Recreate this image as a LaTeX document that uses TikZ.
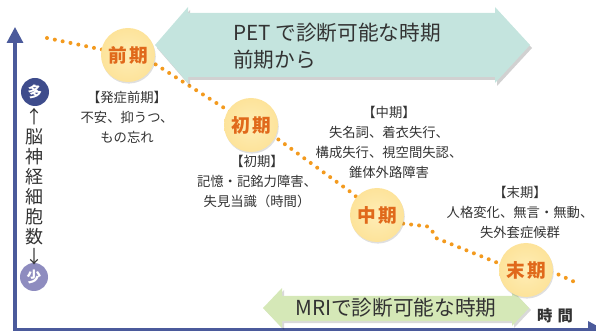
\documentclass[tikz,border=0pt]{standalone}
\usepackage{fontspec}
\setmainfont{Noto Sans CJK JP}
\usetikzlibrary{arrows.meta,shadows}
\pgfdeclarelayer{bg}
\pgfsetlayers{bg,main}
\definecolor{axisblue}{HTML}{4B5A9B}
\definecolor{cyellow}{HTML}{FDE39A}
\definecolor{cyellowin}{HTML}{FEEDB6}
\definecolor{otext}{HTML}{E0691B}
\definecolor{dotor}{HTML}{F39A1E}
\definecolor{petfill}{HTML}{C4E4DE}
\definecolor{mrifill}{HTML}{D5E8B7}
\definecolor{tgray}{HTML}{333333}
\definecolor{manyc}{HTML}{3E4C8C}
\definecolor{fewc}{HTML}{8E8CBF}
\tikzset{
  axisline/.style={draw=axisblue, line width=2.4pt, -{Triangle[length=12pt,width=12pt]}},
  dotline/.style={draw=dotor, line width=3pt, line cap=round, dash pattern=on 0pt off 6pt},
  stage/.style={circle, minimum size=40.5pt, inner sep=0pt, shading=radial, inner color=cyellowin, outer color=cyellow,
     drop shadow={shadow xshift=0.6pt, shadow yshift=-1.2pt, opacity=0.25},
     text=otext, font=\fontsize{14}{14}\selectfont\bfseries},
  desc/.style={align=center, text=tgray, font=\fontsize{10}{15}\selectfont, inner sep=0pt},
  amount/.style={circle, minimum size=21pt, inner sep=0pt, text=white, font=\fontsize{11}{11}\selectfont\bfseries},
  bigtxt/.style={text=tgray, font=\fontsize{15.5}{20}\selectfont, inner sep=0pt},
}
\begin{document}
\begin{tikzpicture}[x=0.75pt,y=-0.75pt]
\useasboundingbox (0,0) rectangle (596,331);
% axes
\coordinate (yb) at (15,331);
\coordinate (yt) at (15,27);
\coordinate (xl) at (13.5,329.5);
\coordinate (xr) at (604,329.5);
\draw[axisline] (yb) -- (yt);
\draw[axisline] (xl) -- (xr);
% PET arrow
\fill[black, opacity=0.18] ([shift={(2,3)}]155,45) -- ++(33,-38) -- ++(0,6) -- ++(307,0) -- ++(0,-6) -- ++(35,38) -- ++(-35,38) -- ++(0,-6) -- ++(-307,0) -- ++(0,6) -- cycle;
\fill[petfill] (155,45) -- (188,7) -- (188,13) -- (495,13) -- (495,7) -- (530,45) -- (495,83) -- (495,77) -- (188,77) -- (188,83) -- cycle;
\node[bigtxt, anchor=west, align=left] (pet) at (233,46.5) {PET で診断可能な時期\\前期から};
% MRI arrow
\fill[black, opacity=0.15] ([shift={(2,2)}]263,308) -- ++(19,-20) -- ++(0,8) -- ++(230,0) -- ++(0,-6) -- ++(17,18) -- ++(-17,18) -- ++(0,-5) -- ++(-230,0) -- ++(0,7) -- cycle;
\fill[mrifill] (263,308) -- (282,288) -- (282,296) -- (512,296) -- (512,290) -- (529,308) -- (512,326) -- (512,321) -- (282,321) -- (282,328) -- cycle;
\node[bigtxt] (mri) at (396,308) {MRIで診断可能な時期};
\node[text=tgray, font=\fontsize{11.5}{11.5}\selectfont\bfseries, inner sep=0pt] (time) at (555,316) {時\hspace{4pt}間};
% stages
\node[stage] (c1) at (128,55) {前\hspace{2pt}期};
\node[stage] (c2) at (251,125) {初\hspace{2pt}期};
\node[stage] (c3) at (377,215) {中\hspace{2pt}期};
\node[stage] (c4) at (526,270) {末\hspace{2pt}期};
% dotted course
\coordinate (d0) at (47,38);
\coordinate (d2) at (155,64);
\coordinate (d3) at (275,137);
\coordinate (d4) at (352,193);
\coordinate (d5) at (398,223);
\coordinate (d6) at (424,226);
\coordinate (d7) at (436,238);
\coordinate (d8) at (498,263);
\coordinate (d9) at (553,272);
\coordinate (d10) at (579,284);
\begin{pgfonlayer}{bg}
\draw[dotline] (d0) -- (c1.center) -- (d2) -- (c2.center) -- (d3) -- (d4) -- (c3.center) -- (d5) -- (d6) to[out=10,in=120] (d7) -- (d8) -- (c4.center) -- (d9) -- (d10);
\end{pgfonlayer}
% descriptions
\node[desc] (l1) at (127,117) {【発症前期】\\不安、抑うつ、\\もの忘れ};
\node[desc] (l2) at (257,182) {【初期】\\記憶・記銘力障害、\\失見当識（時間）};
\node[desc] (l3) at (389,142.5) {【中期】\\失名詞、着衣失行、\\構成失行、視空間失認、\\錐体外路障害};
\node[desc] (l4) at (520,212) {【末期】\\人格変化、無言・無動、\\失外套症候群};
% amount of neurons
\node[amount, fill=manyc] (many) at (35,92) {多};
\node[amount, fill=fewc] (few) at (34,277) {少};
\node[align=center, text=tgray, font=\fontsize{13.5}{15}\selectfont, inner sep=0pt] (vt) at (34,187) {↑\\脳\\神\\経\\細\\胞\\数\\↓};
\end{tikzpicture}
\end{document}
